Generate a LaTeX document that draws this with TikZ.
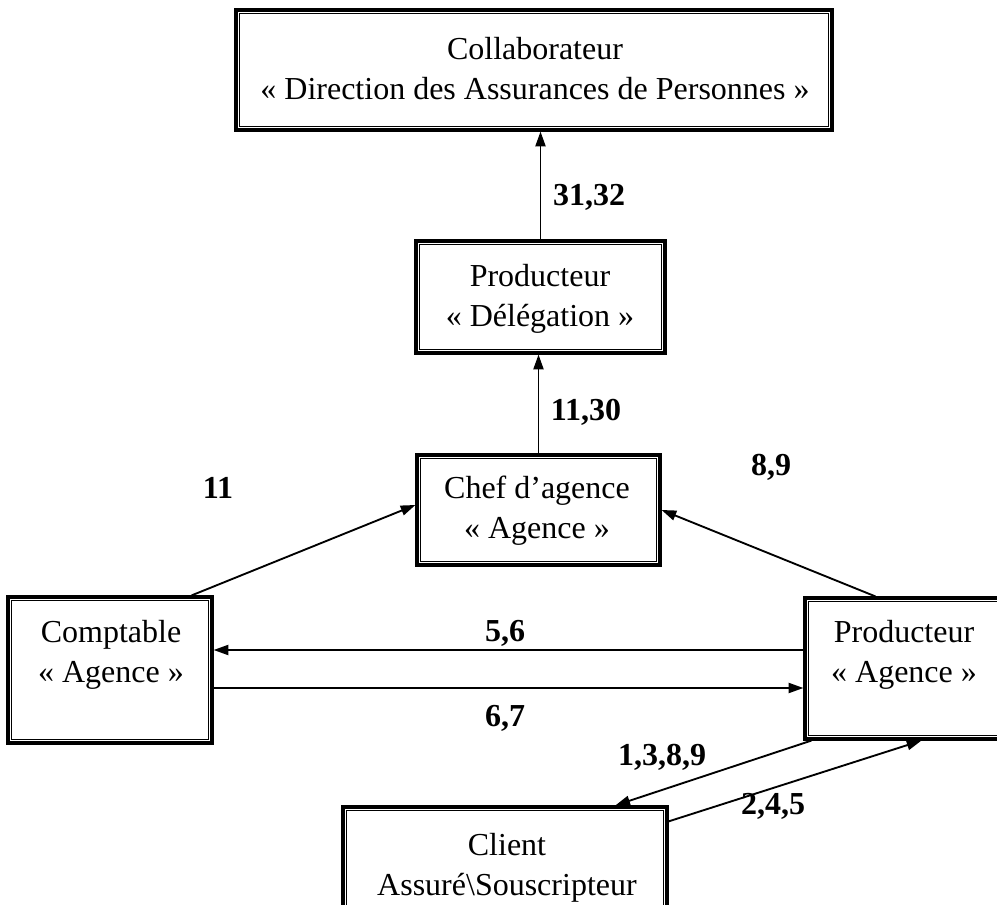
\documentclass[tikz,border=0pt]{standalone}
\usepackage{fontspec}
\setmainfont{Liberation Serif}
\usetikzlibrary{arrows.meta,calc,fit}
\begin{document}
\begin{tikzpicture}[x=0.75pt,y=-0.75pt,
  box/.style={draw,line width=2.4pt,inner sep=0pt,rectangle},
  inner/.style={line width=0.8pt},
  txt/.style={align=center,inner sep=0pt,font=\fontsize{24}{30}\selectfont},
  lbl/.style={inner sep=0pt,font=\fontsize{24}{26}\selectfont\bfseries},
  conn/.style={line width=1.4pt,-{Triangle[length=11pt,width=7.5pt]}}]
\path[use as bounding box,clip] (0,0) rectangle (997,905);

% boxes
\node[box,fit={(236,10) (832,130)}] (collab) {};
\node[box,fit={(416,241) (665,353)}] (deleg) {};
\node[box,fit={(417,455) (660,565)}] (chef) {};
\node[box,fit={(8,597) (212,743)}] (compt) {};
\node[box,fit={(805,598) (1012,739)}] (prod) {};
\node[box,fit={(343,807) (667,960)}] (client) {};
\foreach \n in {collab,deleg,chef,compt,prod,client}
  \draw[inner] ($(\n.north west)+(5,5)$) rectangle ($(\n.south east)+(-5,-5)$);

% box texts
\node[txt] (collabtxt) at (535,68.5) {Collaborateur\\« Direction des Assurances de Personnes »};
\node[txt] (delegtxt) at (540,299) {Producteur\\« Délégation »};
\node[txt] (cheftxt) at (537,511) {Chef d’agence\\« Agence »};
\node[txt] (compttxt) at (111,655) {Comptable\\« Agence »};
\node[txt] (prodtxt) at (904,655) {Producteur\\« Agence »};
\node[txt] (clienttxt) at (507,867.5) {Client\\Assuré\textbackslash Souscripteur};

% connectors
\draw[conn] (deleg.north) -- (deleg.north |- collab.south);
\draw[conn] (chef.north) -- (chef.north |- deleg.south);
\draw[conn] ($(compt.north east)+(-22,0)$) -- ($(chef.west)+(0,-5)$);
\draw[conn] ($(prod.north west)+(72,0)$) -- (chef.east);
\draw[conn] ($(prod.west)+(0,-18.5)$) -- ($(compt.east)+(0,-20)$);
\draw[conn] ($(compt.east)+(0,18)$) -- ($(prod.west)+(0,19.5)$);
\draw[conn] ($(prod.south west)+(8,0)$) -- ($(client.north west)+(274,0)$);
\draw[conn] ($(client.north east)+(0,16)$) -- ($(prod.south west)+(118,0)$);

% flow labels
\node[lbl] (l1) at (589,197) {31,32};
\node[lbl] (l2) at (586,412) {11,30};
\node[lbl] (l3) at (218,488) {11};
\node[lbl] (l4) at (771,467) {8,9};
\node[lbl] (l5) at (505,633) {5,6};
\node[lbl] (l6) at (505,718) {6,7};
\node[lbl] (l7) at (662,757) {1,3,8,9};
\node[lbl] (l8) at (773,806) {2,4,5};
\end{tikzpicture}
\end{document}
